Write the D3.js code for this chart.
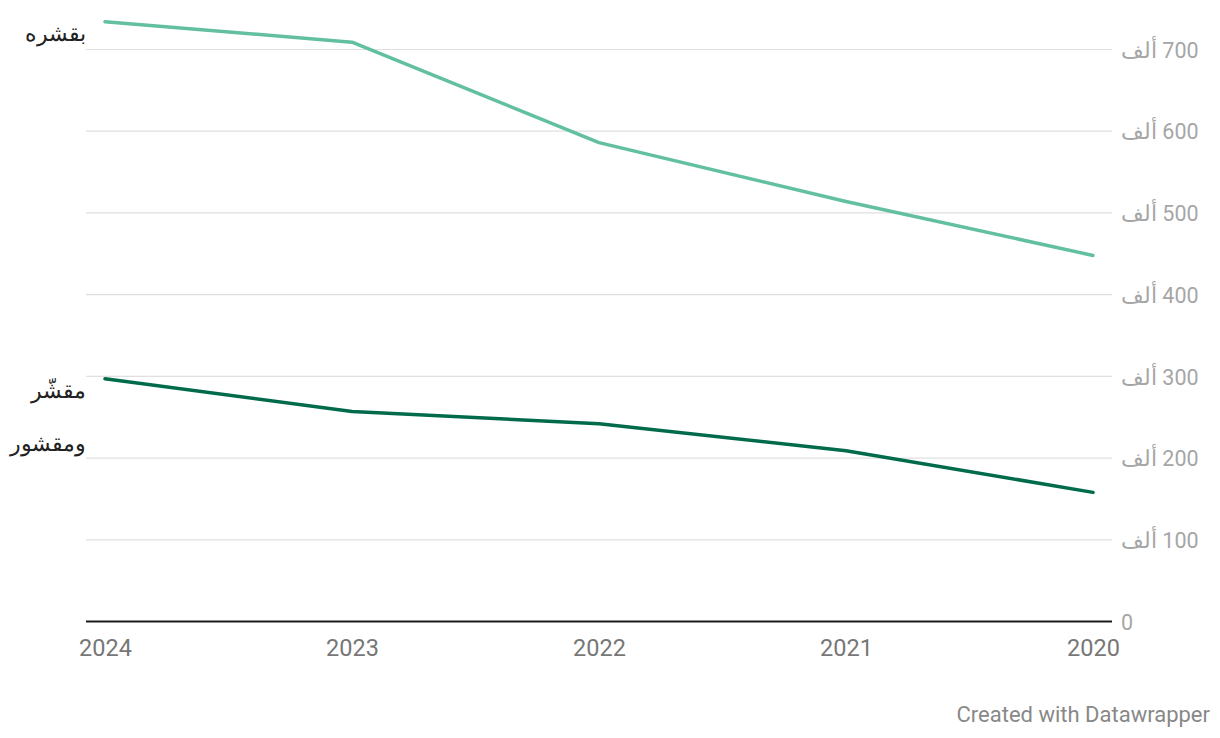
<!DOCTYPE html>
<html>
<head>
<meta charset="utf-8">
<script src="https://cdn.jsdelivr.net/npm/d3@7"></script>
<style>
  body { margin: 0; background: #fff; }
  svg { font-family: Roboto, "Noto Sans", sans-serif; }
</style>
</head>
<body>
<svg id="chart" width="1220" height="738"></svg>
<script>
// data (values in thousands)
const years = [2024, 2023, 2022, 2021, 2020];
const withPeel = [734, 709, 586, 514, 448];
const peeled = [297, 257, 242, 209, 158];
const yTicks = [0, 100, 200, 300, 400, 500, 600, 700];
const seriesNames = ['بقشره', 'مقشّر ومقشور'];

const svg = d3.select('#chart');
const plotLeft = 86;
const plotRight = 1112;
const plotTop = 49.5;
const plotBottom = 621.5;

const x = d3.scalePoint().domain(years).range([105, 1093]);
const y = d3.scaleLinear().domain([0, 700]).range([plotBottom, plotTop]);

// gridlines
svg.append('g')
  .selectAll('line')
  .data(yTicks.filter(d => d > 0))
  .join('line')
    .attr('x1', plotLeft)
    .attr('x2', plotRight)
    .attr('y1', d => y(d))
    .attr('y2', d => y(d))
    .attr('stroke', '#e0e0e0')
    .attr('stroke-width', 1.2);

// baseline
svg.append('line')
  .attr('x1', plotLeft)
  .attr('x2', plotRight)
  .attr('y1', y(0))
  .attr('y2', y(0))
  .attr('stroke', '#1a1a1a')
  .attr('stroke-width', 2);

// right axis labels
const yAxis = d3.axisRight(y)
  .tickValues(yTicks)
  .tickSize(0)
  .tickPadding(0)
  .tickFormat(d => d === 0 ? '0' : d + ' ألف');

const yAxisG = svg.append('g')
  .attr('transform', 'translate(1121,0)')
  .call(yAxis);
yAxisG.select('.domain').remove();
yAxisG.selectAll('text')
  .attr('x', 0)
  .attr('dy', '0.36em')
  .attr('direction', 'rtl')
  .attr('text-anchor', 'end')
  .attr('fill', '#a6a6a6')
  .attr('font-size', 21.5)
  .attr('font-family', 'Roboto, "Noto Sans", sans-serif');

// bottom axis labels
const xAxis = d3.axisBottom(x).tickSize(0).tickPadding(0);
const xAxisG = svg.append('g')
  .attr('transform', 'translate(0,' + plotBottom + ')')
  .call(xAxis);
xAxisG.select('.domain').remove();
xAxisG.selectAll('text')
  .attr('y', 34)
  .attr('dy', 0)
  .attr('fill', '#777')
  .attr('font-size', 23.5)
  .attr('font-family', 'Roboto, "Noto Sans", sans-serif');

// lines
const line = d3.line()
  .x((d, i) => x(years[i]))
  .y(d => y(d));

svg.append('path')
  .datum(withPeel)
  .attr('d', line)
  .attr('fill', 'none')
  .attr('stroke', '#63c09f')
  .attr('stroke-width', 3.5)
  .attr('stroke-linejoin', 'round')
  .attr('stroke-linecap', 'round');

svg.append('path')
  .datum(peeled)
  .attr('d', line)
  .attr('fill', 'none')
  .attr('stroke', '#006b4a')
  .attr('stroke-width', 3.5)
  .attr('stroke-linejoin', 'round')
  .attr('stroke-linecap', 'round');

// series labels
svg.append('text')
  .attr('x', 86)
  .attr('y', y(withPeel[0]) + 19)
  .attr('text-anchor', 'end')
  .attr('font-size', 22)
  .attr('fill', '#222')
  .attr('font-family', '"Noto Sans", Roboto, sans-serif')
  .text(seriesNames[0]);

const peeledLabel = svg.append('text')
  .attr('text-anchor', 'end')
  .attr('font-size', 22)
  .attr('fill', '#222')
  .attr('font-family', '"Noto Sans", Roboto, sans-serif');
seriesNames[1].split(' ').forEach((w, i) => {
  peeledLabel.append('tspan')
    .attr('x', 86)
    .attr('y', y(peeled[0]) + 19 + i * 53)
    .text(w);
});

// credit
svg.append('text')
  .attr('x', 1210)
  .attr('y', 722)
  .attr('text-anchor', 'end')
  .attr('font-size', 22)
  .attr('fill', '#888')
  .text('Created with Datawrapper');
</script>
</body>
</html>
